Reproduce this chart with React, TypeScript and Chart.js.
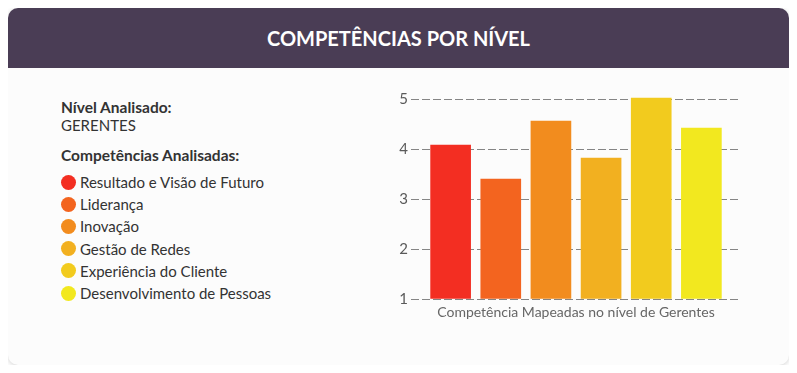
import React, { useEffect, useRef } from "react";
import { Chart, registerables } from "chart.js";

Chart.register(...registerables);

const cardTitle = "COMPETÊNCIAS POR NÍVEL";
const levelLabel = "Nível Analisado:";
const levelValue = "GERENTES";
const competenciesLabel = "Competências Analisadas:";
const competencies = [
  "Resultado e Visão de Futuro",
  "Liderança",
  "Inovação",
  "Gestão de Redes",
  "Experiência do Cliente",
  "Desenvolvimento de Pessoas",
];
const scores = [4.08, 3.4, 4.56, 3.82, 5.02, 4.42];
const colors = ["#f32e22", "#f3641f", "#f28c1e", "#f2b020", "#f2cb1e", "#f2e81f"];
const yMin = 1;
const yMax = 5;
const xAxisTitle = "Competência Mapeadas no nível de Gerentes";

const FONT = "Lato, 'Noto Sans', sans-serif";

export default function App() {
  const canvasRef = useRef<HTMLCanvasElement | null>(null);

  useEffect(() => {
    const canvas = canvasRef.current;
    if (!canvas) return;
    const chart = new Chart(canvas, {
      type: "bar",
      data: {
        datasets: [
          {
            data: scores.map((v, i) => ({ x: i, y: v })),
            backgroundColor: colors,
            borderWidth: 0,
            barThickness: 40,
            clip: false,
            base: yMin,
          } as any,
        ],
      },
      options: {
        animation: false,
        responsive: false,
        maintainAspectRatio: false,
        layout: { padding: { top: 19, right: 29, left: 0, bottom: 0 } },
        plugins: { legend: { display: false }, tooltip: { enabled: false } },
        scales: {
          x: {
            type: "linear",
            offset: false,
            min: -0.79,
            max: competencies.length - 1 + 0.79,
            grid: { display: false, offset: false },
            border: { display: false },
            ticks: { display: false },
            title: {
              display: true,
              text: xAxisTitle,
              color: "#666666",
              font: { family: FONT, size: 14 },
              padding: { top: 0, bottom: 9 },
            },
            afterFit: (scale: any) => {
              scale.height = 31;
            },
          },
          y: {
            min: yMin,
            max: yMax,
            ticks: {
              stepSize: 1,
              color: "#5a5a5a",
              font: { family: FONT, size: 15 },
              padding: 3,
            },
            grid: {
              color: "#858585",
              lineWidth: 1,
              drawTicks: false,
            },
            border: { display: false, dash: [8, 3] },
            afterFit: (scale: any) => {
              scale.width = 41;
            },
          },
        },
      },
    });
    return () => chart.destroy();
  }, []);

  return (
    <div
      style={{
        position: "relative",
        width: 781,
        height: 357,
        background: "#fcfcfc",
        borderRadius: 10,
        boxShadow: "0 1px 5px rgba(0,0,0,0.18)",
        fontFamily: FONT,
        overflow: "hidden",
      }}
    >
      <div
        style={{
          height: 60,
          background: "#4a3d55",
          color: "#ffffff",
          display: "flex",
          alignItems: "center",
          justifyContent: "center",
          fontWeight: 700,
          fontSize: 20,
          paddingBottom: 1,
          boxSizing: "border-box",
        }}
      >
        {cardTitle}
      </div>
      <div style={{ position: "absolute", left: 53, top: 90, fontSize: 15.5, lineHeight: 1.2, color: "#333", fontWeight: 700 }}>
        {levelLabel}
      </div>
      <div style={{ position: "absolute", left: 53, top: 107.5, fontSize: 15, lineHeight: 1.2, color: "#333" }}>
        {levelValue}
      </div>
      <div style={{ position: "absolute", left: 53, top: 138, fontSize: 15.5, lineHeight: 1.2, color: "#333", fontWeight: 700 }}>
        {competenciesLabel}
      </div>
      <div style={{ position: "absolute", left: 53, top: 163 }}>
        {competencies.map((c, i) => (
          <div key={c} style={{ display: "flex", alignItems: "center", height: 22.2, fontSize: 15, color: "#333" }}>
            <span
              style={{
                display: "inline-block",
                width: 15,
                height: 15,
                borderRadius: "50%",
                background: colors[i],
                marginRight: 4,
              }}
            />
            {c}
          </div>
        ))}
      </div>
      <div style={{ position: "absolute", left: 362, top: 72, width: 400, height: 250 }}>
        <canvas ref={canvasRef} width={400} height={250} style={{ width: 400, height: 250 }} />
      </div>
    </div>
  );
}
